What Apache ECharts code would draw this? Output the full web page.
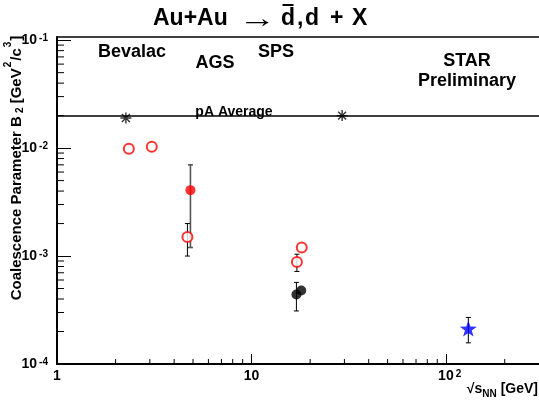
<!DOCTYPE html>
<html><head><meta charset="utf-8">
<script src="https://cdn.jsdelivr.net/npm/echarts@6/dist/echarts.min.js"></script>
<style>html,body{margin:0;padding:0;background:#fff}#c{width:539px;height:404px}</style>
</head><body><div id="c"></div>
<script>
// ---------- data ----------
const xMin = 1, xMax = 300;
const yMin = 1e-4, yMax = 0.107;
const xMinorTicks = [2,3,4,5,6,7,8,9,20,30,40,50,60,70,80,90,200];
const yMinorTicks = [2e-4,3e-4,4e-4,5e-4,6e-4,7e-4,8e-4,9e-4,
                     2e-3,3e-3,4e-3,5e-3,6e-3,7e-3,8e-3,9e-3,
                     2e-2,3e-2,4e-2,5e-2,6e-2,7e-2,8e-2,9e-2];

const pAAverage = 0.02;
const pAX = [2.26, 29.2];
const pAY = [0.019, 0.02];

const bevalacOpenX = [2.34, 3.07];
const bevalacOpenY = [0.00985, 0.0103];

const agsFilledX = [4.85];
const agsFilledY = [0.00408];
const agsFilledLo = [0.0012];
const agsFilledHi = [0.0070];

const agsOpenX = [4.68];
const agsOpenY = [0.0015];
const agsOpenLo = [0.0010];
const agsOpenHi = [0.0020];

const spsOpenX = [17.1, 18.1];
const spsOpenY = [0.00088, 0.0012];
const spsOpenLo = [0.00072, null];
const spsOpenHi = [0.00104, null];

const spsFilledX = [17.0, 18.0];
const spsFilledY = [0.00044, 0.00048];
const spsFilledLo = [0.00031, null];
const spsFilledHi = [0.00057, null];

const starX = [130];
const starY = [0.000213];
const starLo = [0.000157];
const starHi = [0.00027];

// ---------- helpers ----------
const FONT = "'Liberation Sans', Arial, Helvetica, sans-serif";
const zip = (xs, ys) => xs.map((x, i) => [x, ys[i]]);
const errRows = (xs, lo, hi) => xs.map((x, i) => [x, lo[i], hi[i]]).filter(r => r[1] != null);

function decade(v) {
  const l = Math.log10(v);
  const e = Math.round(l);
  return Math.abs(l - e) < 1e-6 ? e : null;
}
const tickRich = {
  b: { fontSize: 14, fontWeight: 'bold', fontFamily: FONT, color: '#000', lineHeight: 14, padding: [7, 0, 0, 0], verticalAlign: 'bottom' },
  s: { fontSize: 10, fontWeight: 'bold', fontFamily: FONT, color: '#000', lineHeight: 10, verticalAlign: 'top', padding: [0, 0, 0, 2] },
  p: { width: 7 }
};

function errSeries(rows, color, width) {
  return {
    type: 'custom', coordinateSystem: 'cartesian2d', silent: true, z: 2,
    data: rows, encode: { x: 0, y: [1, 2] },
    renderItem(params, api) {
      const x = api.value(0);
      const a = api.coord([x, api.value(1)]);
      const b = api.coord([x, api.value(2)]);
      const st = { stroke: color, lineWidth: width };
      const c = 2.5;
      return { type: 'group', children: [
        { type: 'line', shape: { x1: a[0], y1: a[1], x2: b[0], y2: b[1] }, style: st },
        { type: 'line', shape: { x1: a[0] - c, y1: a[1], x2: a[0] + c, y2: a[1] }, style: st },
        { type: 'line', shape: { x1: b[0] - c, y1: b[1], x2: b[0] + c, y2: b[1] }, style: st }
      ]};
    }
  };
}
function minorTickSeries(rows, horizontal, len) {
  return {
    type: 'custom', coordinateSystem: 'cartesian2d', silent: true, z: 3,
    data: rows,
    renderItem(params, api) {
      const p = api.coord([api.value(0), api.value(1)]);
      const shape = horizontal
        ? { x1: p[0], y1: p[1], x2: p[0] + len, y2: p[1] }
        : { x1: p[0], y1: p[1], x2: p[0], y2: p[1] - len };
      return { type: 'line', shape, style: { stroke: '#000', lineWidth: 1 } };
    }
  };
}

const starPath = 'path://M0,-10L2.35,-3.24L9.51,-3.09L3.8,1.24L5.88,8.09L0,4L-5.88,8.09L-3.8,1.24L-9.51,-3.09L-2.35,-3.24Z';
const astPath = 'path://M0,-5L0,5M-5,0L5,0M-3.6,-3.6L3.6,3.6M-3.6,3.6L3.6,-3.6';

// title pieces (ROOT-style wide spacing); measure "d" for the overline
const TFONT = 'bold 23px ' + FONT;
const ctx = document.createElement('canvas').getContext('2d');
ctx.font = TFONT;
const wD = ctx.measureText('d').width;
const titlePieces = [['Au+Au', 153], ['d', 281], [',', 297], ['d', 305], ['+', 330], ['X', 352]];
const dLeft = 281;

const openCircle = { symbol: 'emptyCircle', symbolSize: 10, itemStyle: { color: '#ff0000', borderWidth: 1.2 } };

const graphics = titlePieces.map(([t, x]) => ({ type: 'text', left: x, top: 7, style: { text: t, font: TFONT, fill: '#000' } }));
graphics.push(
  { type: 'text', x: 257.5, y: 20, scaleX: 1.45, style: { text: '\u2192', font: '26px ' + FONT, fill: '#000', align: 'center', verticalAlign: 'middle' } },
  { type: 'line', shape: { x1: dLeft + 1.5, y1: 5, x2: dLeft + wD - 1.5, y2: 5 }, style: { stroke: '#000', lineWidth: 2 } },

  { type: 'text', x: 132, y: 52, style: { text: 'Bevalac', font: 'bold 18px ' + FONT, fill: '#000', align: 'center', verticalAlign: 'middle' } },
  { type: 'text', x: 215, y: 63, style: { text: 'AGS', font: 'bold 18px ' + FONT, fill: '#000', align: 'center', verticalAlign: 'middle' } },
  { type: 'text', x: 276, y: 52, style: { text: 'SPS', font: 'bold 18px ' + FONT, fill: '#000', align: 'center', verticalAlign: 'middle' } },
  { type: 'text', x: 467, y: 61, style: { text: 'STAR', font: 'bold 18px ' + FONT, fill: '#000', align: 'center', verticalAlign: 'middle' } },
  { type: 'text', x: 467, y: 81, style: { text: 'Preliminary', font: 'bold 18px ' + FONT, fill: '#000', align: 'center', verticalAlign: 'middle' } },
  { type: 'text', x: 234, y: 112, style: { text: 'pA Average', font: 'bold 14px ' + FONT, fill: '#000', align: 'center', verticalAlign: 'middle' } },

  { type: 'text', x: 17, y: 168, rotation: Math.PI / 2,
    style: {
      text: 'Coalescence Parameter B{sub|2} [GeV{sup|2}/c{sup|3}]',
      font: 'bold 15px ' + FONT, fill: '#000', align: 'center', verticalAlign: 'middle', lineHeight: 28,
      rich: {
        sub: { fontSize: 10, fontWeight: 'bold', fontFamily: FONT, lineHeight: 10, padding: [7, 0, 0, 3], verticalAlign: 'middle' },
        sup: { fontSize: 10, fontWeight: 'bold', fontFamily: FONT, lineHeight: 10, verticalAlign: 'top', padding: [0, 1, 0, 1] }
      }
    } },
  { type: 'text', x: 538, y: 389,
    style: {
      text: '{b|\u221As}{n|NN}{b| [GeV]}',
      fill: '#000', align: 'right', verticalAlign: 'middle',
      rich: {
        b: { fontSize: 14, fontWeight: 'bold', fontFamily: FONT, lineHeight: 20, verticalAlign: 'middle' },
        n: { fontSize: 10, fontWeight: 'bold', fontFamily: FONT, lineHeight: 10, verticalAlign: 'bottom' }
      }
    } }
);

const chart = echarts.init(document.getElementById('c'), null, { renderer: 'canvas' });
chart.setOption({
  backgroundColor: '#fff',
  animation: false,
  grid: { left: 57, right: -2, top: 37, bottom: 40, containLabel: false },
  xAxis: [{
    type: 'log', logBase: 10, min: xMin, max: xMax,
    axisLine: { onZero: false, lineStyle: { color: '#000', width: 2 } },
    axisTick: { inside: true, length: 10, lineStyle: { color: '#000', width: 1 } },
    splitLine: { show: false },
    axisLabel: {
      margin: 5, rich: tickRich, showMaxLabel: false,
      formatter: v => {
        const e = decade(v);
        if (e === null) return '';
        if (e === 0) return '{b|1}';
        if (e === 1) return '{b|10}';
        return '{p| }{b|10}{s|' + e + '}';
      }
    }
  }, {
    type: 'value', position: 'top', min: 0, max: 1,
    axisLine: { show: true, onZero: false, lineStyle: { color: '#000', width: 1.5 } },
    axisTick: { show: false }, axisLabel: { show: false }, splitLine: { show: false }
  }],
  yAxis: {
    type: 'log', logBase: 10, min: yMin, max: yMax,
    axisLine: { onZero: false, lineStyle: { color: '#000', width: 2 } },
    axisTick: { inside: true, length: 14, lineStyle: { color: '#000', width: 1 } },
    splitLine: { show: false },
    axisLabel: {
      margin: 9, rich: tickRich, showMaxLabel: false,
      formatter: v => {
        const e = decade(v);
        if (e === null) return '';
        return '{b|10}{s|' + e + '}';
      }
    }
  },
  series: [
    minorTickSeries(xMinorTicks.map(v => [v, yMin]), false, 5),
    minorTickSeries(yMinorTicks.map(v => [xMin, v]), true, 7),
    errSeries(errRows(agsFilledX, agsFilledLo, agsFilledHi), '#555', 1.6),
    errSeries(errRows(agsOpenX, agsOpenLo, agsOpenHi), '#000', 1),
    errSeries(errRows(spsOpenX, spsOpenLo, spsOpenHi), '#000', 1),
    errSeries(errRows(spsFilledX, spsFilledLo, spsFilledHi), '#000', 1),
    errSeries(errRows(starX, starLo, starHi), '#000', 1),
    {
      name: 'pA', type: 'scatter', z: 4, data: zip(pAX, pAY),
      symbol: astPath, symbolSize: 11,
      itemStyle: { color: '#000', borderColor: '#000', borderWidth: 1.4 },
      markLine: {
        silent: true, symbol: 'none', label: { show: false },
        lineStyle: { color: '#000', width: 1.5, type: 'solid' },
        data: [{ yAxis: pAAverage }]
      }
    },
    Object.assign({ name: 'Bevalac', type: 'scatter', z: 5, data: zip(bevalacOpenX, bevalacOpenY) }, openCircle),
    Object.assign({ name: 'AGS open', type: 'scatter', z: 5, data: zip(agsOpenX, agsOpenY) }, openCircle),
    {
      name: 'AGS filled', type: 'scatter', z: 5, data: zip(agsFilledX, agsFilledY),
      symbol: 'circle', symbolSize: 10,
      itemStyle: { color: '#ff0000' }
    },
    Object.assign({ name: 'SPS open', type: 'scatter', z: 5, data: zip(spsOpenX, spsOpenY) }, openCircle),
    {
      name: 'SPS filled', type: 'scatter', z: 5, data: zip(spsFilledX, spsFilledY),
      symbol: 'circle', symbolSize: 10,
      itemStyle: { color: '#000' }
    },
    {
      name: 'STAR', type: 'scatter', z: 6, data: zip(starX, starY),
      symbol: starPath, symbolSize: [17, 16],
      itemStyle: { color: '#0000ff' }
    }
  ],
  graphic: graphics
});
</script>
</body></html>
